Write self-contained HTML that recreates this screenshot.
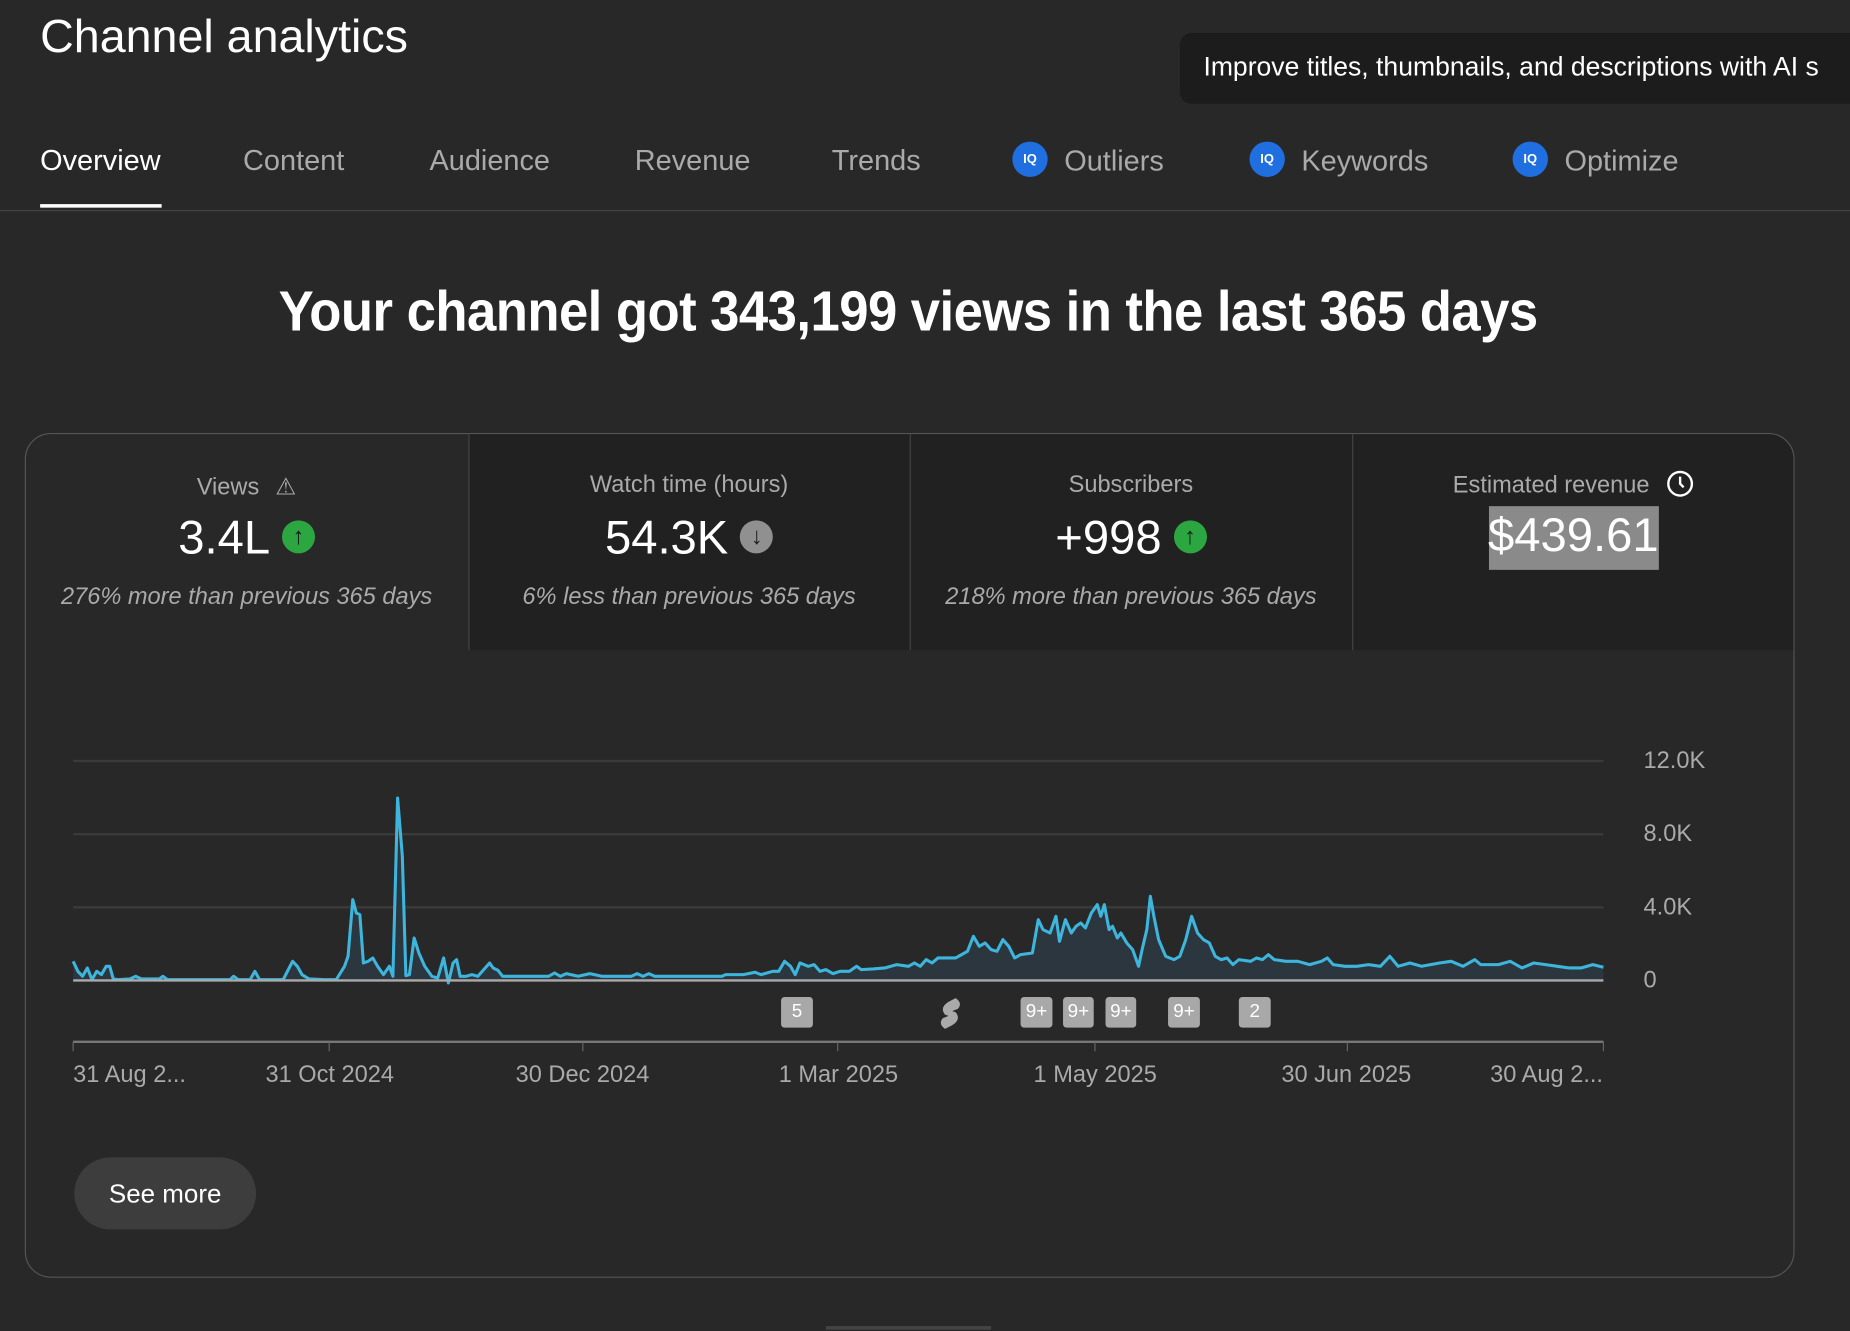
<!DOCTYPE html>
<html><head><meta charset="utf-8"><style>
html,body{margin:0;padding:0;background:#282828;overflow:hidden}
#w{position:absolute;left:0;top:0;width:1568px;height:1128px;transform:scale(1.17985);transform-origin:0 0;font-family:"Liberation Sans",sans-serif;color:#fff}
.a{position:absolute;white-space:nowrap}
.tab{position:absolute;top:123px;font-size:24.5px;color:#aaa}
.ic{display:inline-block;width:30px;height:30px;border-radius:50%;background:#1f6fe0;vertical-align:middle;margin-right:14px;position:relative;top:-3px;text-align:center;font-size:11px;font-weight:bold;line-height:30px;color:#fff}
.col{position:absolute;top:368px;height:182px;text-align:center}
.lbl{position:absolute;top:400px;width:100%;font-size:20px;color:#aaa;text-align:center}
.val{position:absolute;top:434px;width:100%;font-size:40px;color:#fff;text-align:center}
.sub{position:absolute;top:495px;width:100%;font-size:20px;color:#aaa;font-style:italic;text-align:center}
.arr{display:inline-block;width:28px;height:28px;border-radius:50%;vertical-align:middle;margin-left:10px;position:relative;top:-3px;color:#1a1a1a;font-size:20px;line-height:28px;font-weight:bold}
.bd{position:absolute;top:845px;height:26px;background:#a8a8a8;border-radius:3px;color:#fff;font-size:16px;line-height:26px;text-align:center}
.xl{position:absolute;top:900px;font-size:20px;color:#aaa}
.yl{position:absolute;left:1393px;font-size:20px;color:#aaa}
</style></head><body><div id="w">
<div class="a" style="left:34px;top:9px;font-size:39.5px">Channel analytics</div>
<div class="a" style="left:1000px;top:28px;width:600px;height:60px;background:#1c1c1c;border-radius:10px"></div>
<div class="a" style="left:1020px;top:44px;font-size:22.5px">Improve titles, thumbnails, and descriptions with AI s</div>
<div class="tab" style="left:34px;color:#fff">Overview</div>
<div class="a" style="left:34px;top:173px;width:103px;height:3px;background:#fff"></div>
<div class="tab" style="left:206px">Content</div>
<div class="tab" style="left:364px">Audience</div>
<div class="tab" style="left:538px">Revenue</div>
<div class="tab" style="left:705px">Trends</div>
<div class="tab" style="left:858px"><span class="ic">IQ</span>Outliers</div>
<div class="tab" style="left:1059px"><span class="ic">IQ</span>Keywords</div>
<div class="tab" style="left:1282px"><span class="ic">IQ</span>Optimize</div>
<div class="a" style="left:0;top:178px;width:1568px;height:1px;background:#444"></div>
<div class="a" style="left:0;top:237px;width:1540px;text-align:center"><span style="display:inline-block;font-size:48px;font-weight:bold;transform:scaleX(0.93);letter-spacing:-0.5px">Your channel got 343,199 views in the last 365 days</span></div>
<div class="a" style="left:21px;top:367px;width:1498px;height:714px;border:1.5px solid #555;border-radius:22px;overflow:hidden">
<div class="a" style="left:375px;top:0;width:1125px;height:183px;background:#212121"></div>
<div class="a" style="left:375px;top:0;width:1px;height:183px;background:#444"></div>
<div class="a" style="left:749px;top:0;width:1px;height:183px;background:#444"></div>
<div class="a" style="left:1124px;top:0;width:1px;height:183px;background:#444"></div>
</div>
<div class="a" style="left:21px;width:376px;top:0">
<div class="lbl">Views <span style="font-size:20px;margin-left:8px">⚠</span></div>
<div class="val">3.4L<span class="arr" style="background:#2ba640">↑</span></div>
<div class="sub">276% more than previous 365 days</div></div>
<div class="a" style="left:397px;width:374px;top:0">
<div class="lbl">Watch time (hours)</div>
<div class="val">54.3K<span class="arr" style="background:#909090">↓</span></div>
<div class="sub">6% less than previous 365 days</div></div>
<div class="a" style="left:771px;width:375px;top:0">
<div class="lbl">Subscribers</div>
<div class="val">+998<span class="arr" style="background:#2ba640">↑</span></div>
<div class="sub">218% more than previous 365 days</div></div>
<div class="a" style="left:1146px;width:375px;top:0">
<div class="lbl">Estimated revenue <svg width="24" height="24" viewBox="0 0 24 24" style="vertical-align:middle;margin-left:8px;position:relative;top:-2px"><circle cx="12" cy="12" r="10" fill="none" stroke="#fff" stroke-width="2"/><path d="M12 6v6l3 3" fill="none" stroke="#fff" stroke-width="2"/></svg></div>
<div class="a" style="left:116px;top:429px;width:144px;height:54px;background:#8a8a8a"></div>
<div class="val" style="top:432px">$439.61</div></div>
<svg class="a" style="left:0;top:0" width="1568" height="1128">
<g stroke="#3a3a3a" stroke-width="2"><line x1="62" y1="645" x2="1359" y2="645"/><line x1="62" y1="707" x2="1359" y2="707"/><line x1="62" y1="769" x2="1359" y2="769"/></g>
<g transform="translate(0,593) scale(1,0.2825)">
<polygon fill="#2b363e" points="62,845 62,785 66,815 70,830 74,805 78,840 82,815 86,825 90,800 93,800 96,838 100,840 110,838 115,830 120,838 135,838 138,830 142,840 195,840 198,830 202,840 212,840 216,815 220,840 240,840 248,785 252,800 256,825 262,838 275,840 285,840 292,800 295,770 299,600 302,640 305,645 308,790 312,785 316,775 320,800 325,825 330,800 333,830 337,295 341,470 344,828 347,825 351,715 355,760 360,800 366,830 371,835 376,775 380,850 384,790 387,780 390,830 395,830 400,825 405,830 410,810 415,790 418,805 422,812 426,830 435,830 465,830 470,820 475,830 480,822 490,830 500,822 510,830 535,830 540,822 545,830 550,822 555,830 612,830 615,825 630,825 640,818 645,825 655,815 660,815 665,785 670,800 674,825 678,790 685,800 690,795 695,815 700,810 706,822 712,815 720,815 726,800 730,810 740,808 750,805 760,795 770,800 775,790 780,800 785,780 790,790 795,775 810,775 815,765 820,755 825,710 830,740 835,730 840,750 845,755 850,720 855,740 860,775 865,765 875,760 880,660 884,690 890,700 895,650 898,725 903,660 908,700 912,680 916,670 920,685 925,640 930,615 933,650 936,615 940,690 943,680 947,715 950,700 955,730 960,750 965,800 968,750 972,690 975,590 978,650 982,720 988,770 995,780 1000,770 1005,720 1010,650 1015,700 1020,720 1025,730 1030,770 1035,780 1040,775 1045,795 1050,780 1060,785 1065,775 1070,780 1075,765 1080,780 1090,785 1100,785 1110,795 1120,785 1125,775 1130,795 1140,800 1150,800 1160,795 1170,800 1178,770 1185,800 1195,790 1205,800 1220,790 1230,785 1240,800 1250,780 1255,795 1270,795 1280,785 1290,805 1300,790 1310,795 1320,800 1330,805 1340,805 1350,795 1359,803 1359,845"/>
<polyline fill="none" stroke="#3db5dc" stroke-width="2.6" vector-effect="non-scaling-stroke" stroke-linejoin="round" points="62,785 66,815 70,830 74,805 78,840 82,815 86,825 90,800 93,800 96,838 100,840 110,838 115,830 120,838 135,838 138,830 142,840 195,840 198,830 202,840 212,840 216,815 220,840 240,840 248,785 252,800 256,825 262,838 275,840 285,840 292,800 295,770 299,600 302,640 305,645 308,790 312,785 316,775 320,800 325,825 330,800 333,830 337,295 341,470 344,828 347,825 351,715 355,760 360,800 366,830 371,835 376,775 380,850 384,790 387,780 390,830 395,830 400,825 405,830 410,810 415,790 418,805 422,812 426,830 435,830 465,830 470,820 475,830 480,822 490,830 500,822 510,830 535,830 540,822 545,830 550,822 555,830 612,830 615,825 630,825 640,818 645,825 655,815 660,815 665,785 670,800 674,825 678,790 685,800 690,795 695,815 700,810 706,822 712,815 720,815 726,800 730,810 740,808 750,805 760,795 770,800 775,790 780,800 785,780 790,790 795,775 810,775 815,765 820,755 825,710 830,740 835,730 840,750 845,755 850,720 855,740 860,775 865,765 875,760 880,660 884,690 890,700 895,650 898,725 903,660 908,700 912,680 916,670 920,685 925,640 930,615 933,650 936,615 940,690 943,680 947,715 950,700 955,730 960,750 965,800 968,750 972,690 975,590 978,650 982,720 988,770 995,780 1000,770 1005,720 1010,650 1015,700 1020,720 1025,730 1030,770 1035,780 1040,775 1045,795 1050,780 1060,785 1065,775 1070,780 1075,765 1080,780 1090,785 1100,785 1110,795 1120,785 1125,775 1130,795 1140,800 1150,800 1160,795 1170,800 1178,770 1185,800 1195,790 1205,800 1220,790 1230,785 1240,800 1250,780 1255,795 1270,795 1280,785 1290,805 1300,790 1310,795 1320,800 1330,805 1340,805 1350,795 1359,803"/>
</g>
<line x1="62" y1="831" x2="1359" y2="831" stroke="#aaa" stroke-width="2"/>
<line x1="62" y1="883" x2="1359" y2="883" stroke="#777" stroke-width="2"/>
<g stroke="#666" stroke-width="1"><line x1="62" y1="883" x2="62" y2="891"/><line x1="279" y1="883" x2="279" y2="891"/><line x1="494" y1="883" x2="494" y2="891"/><line x1="710" y1="883" x2="710" y2="891"/><line x1="928" y1="883" x2="928" y2="891"/><line x1="1142" y1="883" x2="1142" y2="891"/><line x1="1359" y1="883" x2="1359" y2="891"/></g>
<path d="M810,846 l-6,3 q-8,5 -3,11 l3,1 -5,2 q-4,5 2,9 l6,-3 q8,-5 3,-11 l-3,-1 5,-2 q4,-5 -2,-9z" fill="#aaa"/>
</svg>
<div class="yl" style="top:634px">12.0K</div>
<div class="yl" style="top:696px">8.0K</div>
<div class="yl" style="top:758px">4.0K</div>
<div class="yl" style="top:820px">0</div>
<div class="bd" style="left:662px;width:27px">5</div>
<div class="bd" style="left:865px;width:27px">9+</div>
<div class="bd" style="left:901px;width:26px">9+</div>
<div class="bd" style="left:937px;width:26px">9+</div>
<div class="bd" style="left:990px;width:27px">9+</div>
<div class="bd" style="left:1050px;width:27px">2</div>
<div class="xl" style="left:62px">31 Aug 2...</div>
<div class="xl" style="left:225px">31 Oct 2024</div>
<div class="xl" style="left:437px">30 Dec 2024</div>
<div class="xl" style="left:660px">1 Mar 2025</div>
<div class="xl" style="left:876px">1 May 2025</div>
<div class="xl" style="left:1086px">30 Jun 2025</div>
<div class="xl" style="left:1263px">30 Aug 2...</div>
<div class="a" style="left:63px;top:981px;width:154px;height:61px;background:#3d3d3d;border-radius:31px;text-align:center;line-height:61px;font-size:22px">See more</div>
<div class="a" style="left:700px;top:1124px;width:140px;height:3px;background:#444"></div>
</div></body></html>
